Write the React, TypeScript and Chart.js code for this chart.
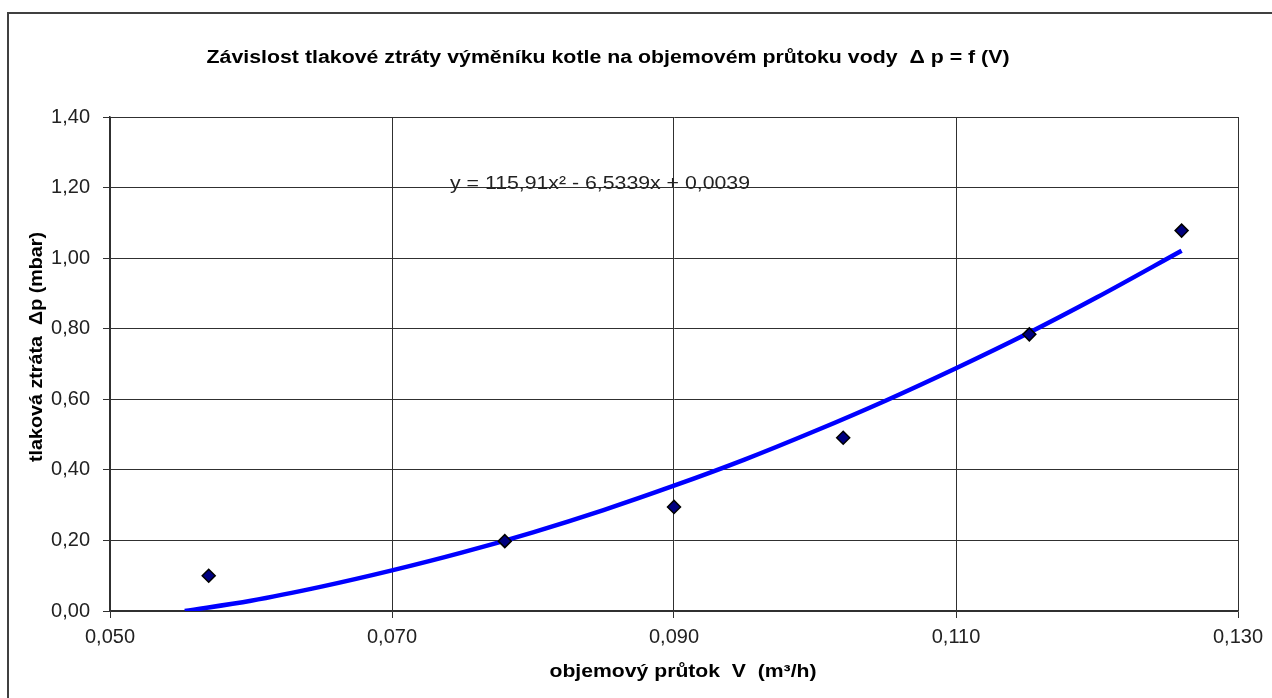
import React, { useEffect, useRef } from "react";
import { Chart, registerables } from "chart.js";

Chart.register(...registerables);

// Measured points (objemový průtok V [m3/h], tlaková ztráta Δp [mbar])
const flowValues = [0.057, 0.078, 0.09, 0.102, 0.1152, 0.126];
const pressureValues = [0.1, 0.198, 0.295, 0.491, 0.784, 1.078];

// Polynomial trend line
const trendFlow = [0.0553, 0.06, 0.065, 0.07, 0.075, 0.08, 0.085, 0.09, 0.095, 0.1, 0.105, 0.11, 0.115, 0.12, 0.126];
const trendPressure = [0.0, 0.029, 0.069, 0.115, 0.166, 0.223, 0.286, 0.355, 0.429, 0.51, 0.596, 0.688, 0.785, 0.889, 1.021];

const yTicks = [0, 0.2, 0.4, 0.6, 0.8, 1.0, 1.2, 1.4];
const xTicks = [0.05, 0.07, 0.09, 0.11, 0.13];

const chartTitle = "Závislost tlakové ztráty výměníku kotle na objemovém průtoku vody  \u0394 p = f (V)";
const xTitle = "objemový průtok  V  (m\u00B3/h)";
const yTitle = "tlaková ztráta  \u0394p (mbar)";
const equation = "y = 115,91x\u00B2 - 6,5339x + 0,0039";

const FONT = "'Liberation Sans', Arial, sans-serif";

function fitText(ctx: any, text: string, cx: number, cy: number, width: number, rotate = false) {
  const w = ctx.measureText(text).width;
  const sx = width / w;
  ctx.save();
  ctx.translate(cx, cy);
  if (rotate) ctx.rotate(-Math.PI / 2);
  ctx.scale(sx, 1);
  ctx.textAlign = "center";
  ctx.textBaseline = "middle";
  ctx.fillText(text, 0, 0);
  ctx.restore();
}

const decorPlugin = {
  id: "decor",
  beforeDraw(chart: any) {
    const ctx = chart.ctx;
    ctx.save();
    ctx.fillStyle = "#ffffff";
    ctx.fillRect(0, 0, chart.width, chart.height);
    // outer frame (top and left edges visible)
    ctx.strokeStyle = "#404040";
    ctx.lineWidth = 2;
    ctx.beginPath();
    ctx.moveTo(8, chart.height + 5);
    ctx.lineTo(8, 13);
    ctx.lineTo(chart.width + 5, 13);
    ctx.stroke();
    ctx.restore();
  },
  afterDraw(chart: any) {
    const ctx = chart.ctx;
    ctx.save();
    ctx.fillStyle = "#000000";
    ctx.font = `bold 18px ${FONT}`;
    fitText(ctx, chartTitle, 608, 58, 803);
    fitText(ctx, xTitle, 683, 672, 267);
    fitText(ctx, yTitle, 37, 347, 230, true);
    ctx.font = `19px ${FONT}`;
    ctx.fillStyle = "#222222";
    fitText(ctx, equation, 600, 184, 300);
    ctx.restore();
  },
};

export default function App() {
  const canvasRef = useRef<HTMLCanvasElement | null>(null);

  useEffect(() => {
    document.body.style.margin = "0";
    const canvas = canvasRef.current;
    if (!canvas) return;
    const scatterData = flowValues.map((x, i) => ({ x, y: pressureValues[i] }));
    const trendData = trendFlow.map((x, i) => ({ x, y: trendPressure[i] }));
    const gridColor = "#303030";
    const chart = new Chart(canvas, {
      type: "scatter",
      data: {
        datasets: [
          {
            label: "trend",
            data: trendData,
            showLine: true,
            borderColor: "#0000FF",
            borderWidth: 4.5,
            pointRadius: 0,
            cubicInterpolationMode: "monotone",
            order: 2,
          } as any,
          {
            label: "data",
            data: scatterData,
            pointStyle: "rectRot",
            pointRadius: 6.5,
            pointBackgroundColor: "#000080",
            pointBorderColor: "#000000",
            pointBorderWidth: 1.5,
            showLine: false,
            order: 1,
          } as any,
        ],
      },
      options: {
        animation: false,
        responsive: true,
        maintainAspectRatio: false,
        layout: { padding: { top: 117, right: 34, left: 0, bottom: 0 } },
        plugins: {
          legend: { display: false },
          title: { display: false },
          tooltip: { enabled: false },
        },
        scales: {
          x: {
            type: "linear",
            min: xTicks[0],
            max: xTicks[xTicks.length - 1],
            afterBuildTicks: (scale: any) => {
              scale.ticks = xTicks.map((v) => ({ value: v }));
            },
            afterFit: (scale: any) => {
              scale.height = 87;
            },
            ticks: {
              color: "#222222",
              font: { family: FONT, size: 20 },
              padding: 7,
              maxRotation: 0,
              callback: (v: any) => Number(v).toFixed(3).replace(".", ","),
            },
            grid: { color: gridColor, lineWidth: 1, tickLength: 7, drawTicks: true },
            border: { color: gridColor, width: 1.5 },
          },
          y: {
            type: "linear",
            min: yTicks[0],
            max: yTicks[yTicks.length - 1],
            afterBuildTicks: (scale: any) => {
              scale.ticks = yTicks.map((v) => ({ value: v }));
            },
            afterFit: (scale: any) => {
              scale.width = 110;
            },
            ticks: {
              color: "#222222",
              font: { family: FONT, size: 20 },
              padding: 13,
              callback: (v: any) => Number(v).toFixed(2).replace(".", ","),
            },
            grid: { color: gridColor, lineWidth: 1, tickLength: 7, drawTicks: true },
            border: { color: gridColor, width: 1.5 },
          },
        },
      },
      plugins: [decorPlugin],
    });
    return () => chart.destroy();
  }, []);

  return (
    <div style={{ position: "fixed", left: 0, top: 0, width: 1272, height: 698 }}>
      <canvas ref={canvasRef} />
    </div>
  );
}
